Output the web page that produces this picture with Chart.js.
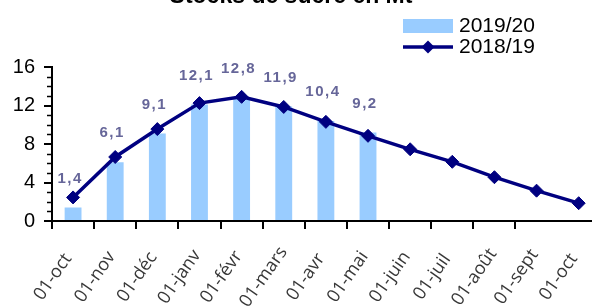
<!DOCTYPE html>
<html>
<head>
<meta charset="utf-8">
<script src="https://cdn.jsdelivr.net/npm/chart.js@4.4.1/dist/chart.umd.min.js"></script>
<style>
  html, body { margin: 0; padding: 0; background: #fff; overflow: hidden; }
  #wrap { width: 598px; height: 306px; }
</style>
</head>
<body>
<div id="wrap"><canvas id="c" width="598" height="306"></canvas></div>
<script>
// ---- data ----
const chartTitle = 'Stocks de sucre en Mt';
const tickLabels = ['01-oct', '01-nov', '01-déc', '01-janv', '01-févr', '01-mars', '01-avr',
                    '01-mai', '01-juin', '01-juil', '01-août', '01-sept', '01-oct'];
const seriesBarName = '2019/20';
const seriesLineName = '2018/19';
const barValues = [1.4, 6.1, 9.1, 12.1, 12.8, 11.9, 10.4, 9.2];
const lineValues = [2.45, 6.65, 9.55, 12.25, 12.9, 11.85, 10.3, 8.85, 7.45, 6.15, 4.55, 3.15, 1.85];
const yTicks = [0, 4, 8, 12, 16];

// ---- style ----
const BAR_COLOR = '#99CCFF';
const LINE_COLOR = '#000080';
const LABEL_COLOR = '#666699';
const AXIS_FONT = '"Liberation Sans", Arial, sans-serif';

const barData = barValues.map((v, i) => ({ x: i + 0.5, y: v }));
const lineData = lineValues.map((v, i) => ({ x: i + 0.5, y: v }));

const decorPlugin = {
  id: 'decor',
  afterDraw(chart) {
    const ctx = chart.ctx;
    const xs = chart.scales.x, ys = chart.scales.y;
    ctx.save();
    // title (mostly clipped at top, as in reference)
    ctx.fillStyle = '#000';
    ctx.font = 'bold 23px ' + AXIS_FONT;
    ctx.textAlign = 'center';
    ctx.textBaseline = 'alphabetic';
    ctx.fillText(chartTitle, 291, 3);

    // minor y ticks
    ctx.strokeStyle = '#000';
    ctx.lineWidth = 1.5;
    for (let v = ys.min; v <= ys.max; v++) {
      if (yTicks.includes(v)) continue;
      const y = Math.round(ys.getPixelForValue(v)) + 0.5;
      ctx.beginPath();
      ctx.moveTo(xs.left - 5, y);
      ctx.lineTo(xs.left, y);
      ctx.stroke();
    }

    // rotated x labels centred on ticks
    ctx.fillStyle = '#383838';
    ctx.font = '18px "Open Sans", sans-serif';
    ctx.textAlign = 'center';
    ctx.textBaseline = 'middle';
    tickLabels.forEach((lab, i) => {
      const x = xs.getPixelForValue(i);
      ctx.save();
      ctx.translate(x + 1, 277);
      ctx.rotate(-55 * Math.PI / 180);
      ctx.fillText(lab, 0, 0);
      ctx.restore();
    });

    // bar value labels
    const meta = chart.getDatasetMeta(0);
    ctx.fillStyle = LABEL_COLOR;
    ctx.font = 'bold 15px ' + AXIS_FONT;
    if ('letterSpacing' in ctx) ctx.letterSpacing = '1.5px';
    meta.data.forEach((el, i) => {
      const txt = barValues[i].toFixed(1).replace('.', ',');
      ctx.fillText(txt, el.x - 3, el.y - 29);
    });
    if ('letterSpacing' in ctx) ctx.letterSpacing = '0px';

    // legend
    const lx = 403, lw = 50;
    ctx.fillStyle = BAR_COLOR;
    ctx.fillRect(lx, 19, lw, 14);
    ctx.strokeStyle = LINE_COLOR;
    ctx.lineWidth = 3.5;
    ctx.beginPath();
    ctx.moveTo(lx, 47);
    ctx.lineTo(lx + lw, 47);
    ctx.stroke();
    ctx.fillStyle = LINE_COLOR;
    ctx.beginPath();
    const cx = lx + lw / 2, cy = 47, r = 6.5;
    ctx.moveTo(cx - r, cy); ctx.lineTo(cx, cy - r); ctx.lineTo(cx + r, cy); ctx.lineTo(cx, cy + r);
    ctx.closePath();
    ctx.fill();
    ctx.fillStyle = '#000';
    ctx.font = '21px ' + AXIS_FONT;
    ctx.textAlign = 'left';
    ctx.textBaseline = 'middle';
    ctx.fillText(chart.data.datasets[0].label, 459, 26);
    ctx.fillText(chart.data.datasets[1].label, 459, 47);
    ctx.restore();
  }
};

new Chart(document.getElementById('c'), {
  type: 'bar',
  data: {
    datasets: [
      {
        type: 'bar',
        label: seriesBarName,
        data: barData,
        backgroundColor: BAR_COLOR,
        borderWidth: 0,
        categoryPercentage: 1,
        barPercentage: 0.4,
        order: 2
      },
      {
        type: 'line',
        label: seriesLineName,
        data: lineData,
        borderColor: LINE_COLOR,
        backgroundColor: LINE_COLOR,
        borderWidth: 3.5,
        pointStyle: 'rectRot',
        pointRadius: 6.5,
        pointBorderWidth: 1,
        pointBackgroundColor: LINE_COLOR,
        tension: 0,
        clip: false,
        order: 1
      }
    ]
  },
  options: {
    responsive: false,
    animation: false,
    events: [],
    layout: { padding: { top: 67, right: 0, left: 0, bottom: 0 } },
    plugins: { legend: { display: false }, tooltip: { enabled: false }, title: { display: false } },
    scales: {
      x: {
        type: 'linear',
        min: 0,
        max: 12.78,
        offset: false,
        ticks: { display: false, stepSize: 1 },
        afterBuildTicks: s => { s.ticks = s.ticks.filter(t => Number.isInteger(t.value)); },
        afterFit: s => { s.height = 85; },
        grid: { display: true, drawOnChartArea: false, drawTicks: true, tickLength: 8, color: '#000', lineWidth: 2, offset: false },
        border: { display: true, color: '#000', width: 2 }
      },
      y: {
        min: 0,
        max: 16,
        afterBuildTicks: s => { s.ticks = yTicks.map(v => ({ value: v })); },
        afterFit: s => { s.width = 52; },
        ticks: { color: '#000', font: { family: AXIS_FONT, size: 20 }, padding: 9 },
        grid: { display: true, drawOnChartArea: false, drawTicks: true, tickLength: 8, color: '#000', lineWidth: 2 },
        border: { display: true, color: '#000', width: 2 }
      }
    }
  },
  plugins: [decorPlugin]
});
</script>
</body>
</html>
